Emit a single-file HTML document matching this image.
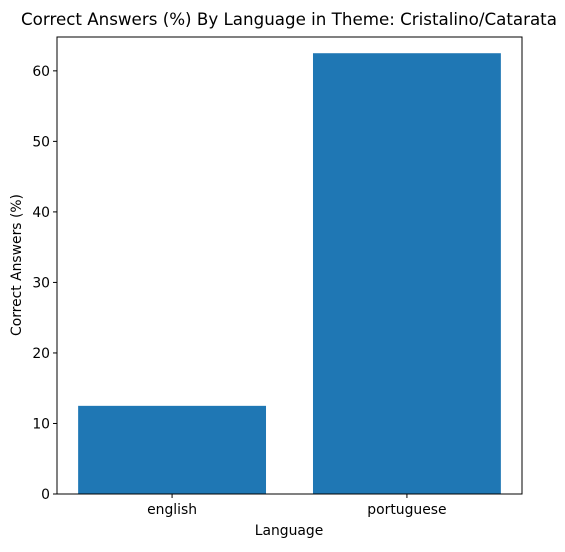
<!DOCTYPE html>
<html><head><meta charset="utf-8"><style>
body{margin:0;background:#fff;font-family:"Liberation Sans","DejaVu Sans",sans-serif;}
svg text{font-family:"DejaVu Sans","Liberation Sans",sans-serif;}
</style></head><body>
<svg id="chart" width="565" height="547" xmlns="http://www.w3.org/2000/svg">
<rect width="565" height="547" fill="#fff"/>
<text x="289" y="25" text-anchor="middle" font-size="16.7" fill="#000">Correct Answers (%) By Language in Theme: Cristalino/Catarata</text>
<g id="bars"></g>
<g id="yticks"></g>
<g id="xticks"></g>
<rect x="57" y="37" width="465" height="457" fill="none" stroke="#000" stroke-width="1"/>
<text x="289" y="535" text-anchor="middle" font-size="13.9">Language</text>
<text transform="translate(21,265) rotate(-90)" text-anchor="middle" font-size="13.9">Correct Answers (%)</text>
</svg>
<script>
const categories=["english","portuguese"];
const values=[12.5,62.5];
const yTicks=[0,10,20,30,40,50,60];
const NS="http://www.w3.org/2000/svg";
const x0=57,x1=522,yb=494,yt=37;
const xmin=-0.49,xmax=1.49,ymax=64.8;
function xs(v){return x0+(v-xmin)/(xmax-xmin)*(x1-x0);}
function ys(v){return yb-v/ymax*(yb-yt);}
function mk(t,a,p){const e=document.createElementNS(NS,t);for(const k in a)e.setAttribute(k,a[k]);p.appendChild(e);return e;}
const bars=document.getElementById('bars');
categories.forEach((c,i)=>{
 const l=xs(i-0.4),r=xs(i+0.4);
 const b=mk('rect',{x:l,y:ys(values[i]),width:r-l,height:yb-ys(values[i]),fill:'#1f77b4'},bars);
 
 
 const g=document.getElementById('xticks');
 mk('line',{x1:xs(i),x2:xs(i),y1:yb,y2:yb+4,stroke:'#000'},g);
 const t=mk('text',{x:xs(i),y:yb+20,'text-anchor':'middle','font-size':13.9},g);
 t.textContent=c;
 
 
});
const yg=document.getElementById('yticks');
yTicks.forEach(v=>{
 mk('line',{x1:x0-4,x2:x0,y1:ys(v),y2:ys(v),stroke:'#000'},yg);
 const t=mk('text',{x:x0-7,y:ys(v)+5,'text-anchor':'end','font-size':13.9},yg);
 t.textContent=v;
 
 
});
</script>
</body></html>
